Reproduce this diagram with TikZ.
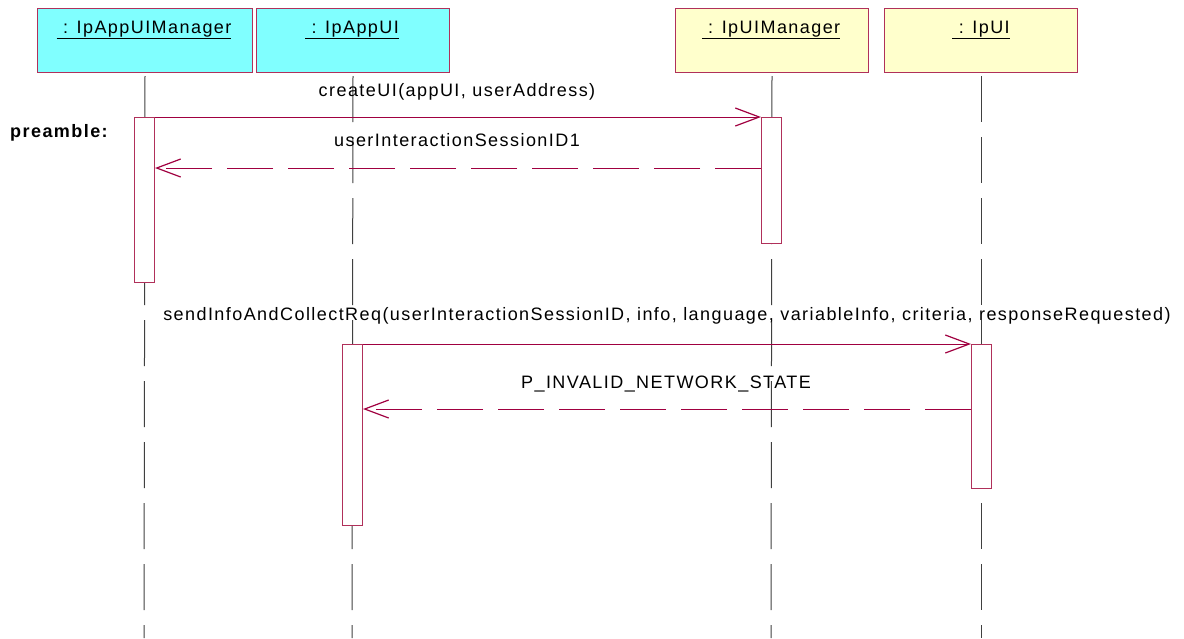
\documentclass[tikz,border=0pt]{standalone}
\usepackage{fontspec}
\setmainfont{Liberation Sans}[LetterSpace=8]
\usetikzlibrary{arrows.meta}
\definecolor{bord}{HTML}{B0305A}
\definecolor{msgc}{HTML}{A00040}
\definecolor{cyanf}{HTML}{80FFFF}
\definecolor{yelf}{HTML}{FFFFCC}
\definecolor{lifec}{HTML}{404040}
\begin{document}
\begin{tikzpicture}[x=1pt,y=-1pt,
  every node/.style={font=\fontsize{18}{21}\selectfont},
  obj/.style={draw=bord,line width=1pt,minimum width=193pt,minimum height=64pt,anchor=north west,inner sep=0pt},
  act/.style={draw=bord,fill=white,line width=1pt,minimum width=20pt,anchor=north west,inner sep=0pt},
  life/.style={draw=lifec,line width=1pt,dash pattern=on 46pt off 15pt},
  msg/.style={draw=msgc,line width=1pt,-{Straight Barb[length=24pt,width=18pt,line width=1.2pt]}},
  ret/.style={msg,dash pattern=on 46pt off 15pt},
  lbl/.style={inner sep=0pt,anchor=base}]
\useasboundingbox (0,0) rectangle (1184,638);
% objects
\node[obj,fill=cyanf,minimum width=215pt] (o1) at (37,8) {};
\node[obj,fill=cyanf] (o2) at (256,8) {};
\node[obj,fill=yelf] (o3) at (675,8) {};
\node[obj,fill=yelf] (o4) at (884,8) {};
\node[lbl] at (144,33) {\underline{\ : IpAppUIManager}};
\node[lbl] at (352,33) {\underline{\ : IpAppUI}};
\node[lbl] at (771,33) {\underline{\ : IpUIManager}};
\node[lbl] at (981,33) {\underline{\ : IpUI}};
% lifelines
\coordinate (e1) at (144,638);
\coordinate (e2) at (352,638);
\coordinate (e3) at (771,638);
\coordinate (e4) at (981,638);
\draw[life] ([yshift=-3pt]o1.south) -- (e1);
\draw[life] ([yshift=-3pt]o2.south) -- (e2);
\draw[life] ([yshift=-3pt]o3.south) -- (e3);
\draw[life] ([yshift=-3pt]o4.south) -- (e4);
% activations
\node[act,minimum height=165pt] (a1) at (134,117) {};
\node[act,minimum height=126pt] (a3) at (761,117) {};
\node[act,minimum height=181pt] (a2) at (342,344) {};
\node[act,minimum height=144pt] (a4) at (971,344) {};
% messages
\draw[msg] (a1.north east) -- (a3.north west);
\node[lbl] at (457,96) {createUI(appUI, userAddress)};
\coordinate (r1s) at ([yshift=-51pt]a3.north west);
\coordinate (r1e) at ([yshift=-51pt]a1.north east);
\draw[ret] (r1s) -- (r1e);
\node[lbl] at (457,146) {userInteractionSessionID1};
\draw[msg] (a2.north east) -- (a4.north west);
\node[lbl] at (667,320) {sendInfoAndCollectReq(userInteractionSessionID, info, language, variableInfo, criteria, responseRequested)};
\coordinate (r2s) at ([yshift=-65pt]a4.north west);
\coordinate (r2e) at ([yshift=-65pt]a2.north east);
\draw[ret] (r2s) -- (r2e);
\node[lbl] at (666,388) {P\_INVALID\_NETWORK\_STATE};
\node[lbl,font=\fontsize{18}{21}\selectfont\bfseries,anchor=base west] at (10,137) {preamble:};
\end{tikzpicture}
\end{document}
